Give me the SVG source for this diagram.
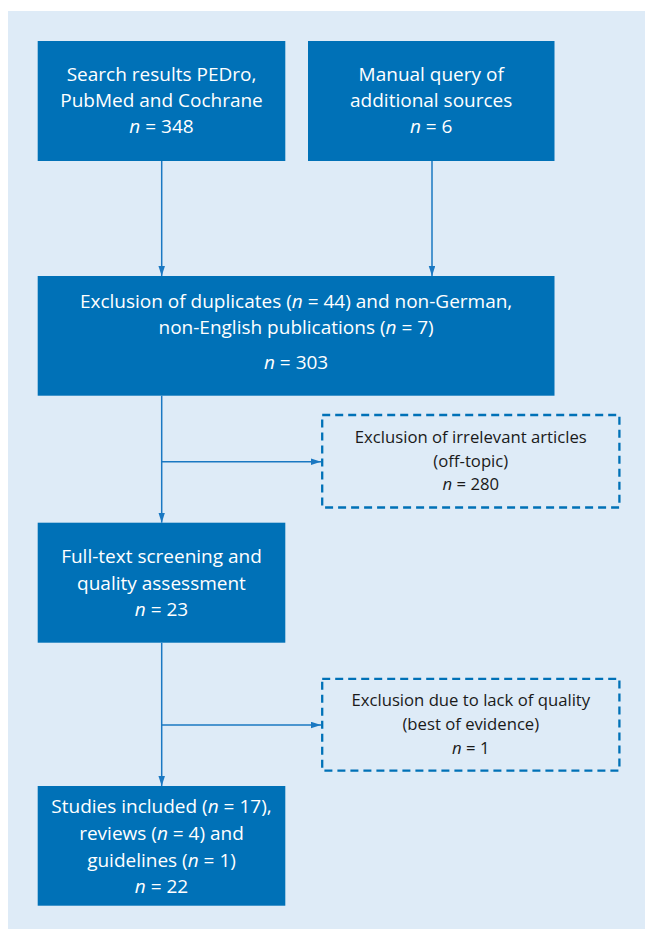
<svg xmlns="http://www.w3.org/2000/svg" width="645" height="929" viewBox="0 0 645 929">
<style>
.box{fill:#0071b7}
.dash{fill:none;stroke:#0071b7;stroke-width:2.3;stroke-dasharray:8 5}
.tw{font-family:"Open Sans","Liberation Sans",sans-serif;font-size:19px;fill:#ffffff;text-anchor:middle}
.td{font-family:"Open Sans","Liberation Sans",sans-serif;font-size:16.7px;fill:#1a1a1a;text-anchor:middle}
.i{font-style:italic}
.conn line{stroke:#1a78c2;stroke-width:1.5;fill:none}
</style>
<defs>
<marker id="ah" markerUnits="userSpaceOnUse" markerWidth="10" markerHeight="7" refX="10" refY="3.25" orient="auto">
<path d="M0,0 L10,3.25 L0,6.5 z" fill="#1a78c2"/>
</marker>
</defs>
<rect x="8" y="11" width="637" height="918" fill="#deebf7"/>
<g id="n1">
<rect class="box" x="37.7" y="41" width="247.6" height="120"/>
<text class="tw" x="161.5" y="81">Search results PEDro,</text>
<text class="tw" x="161.5" y="107.3">PubMed and Cochrane</text>
<text class="tw" x="161.5" y="132.7"><tspan class="i">n</tspan> = 348</text>
</g>
<g id="n2">
<rect class="box" x="308" y="41" width="246.5" height="120"/>
<text class="tw" x="431.2" y="81">Manual query of</text>
<text class="tw" x="431.2" y="107.3">additional sources</text>
<text class="tw" x="431.2" y="132.7"><tspan class="i">n</tspan> = 6</text>
</g>
<g id="n3">
<rect class="box" x="37.7" y="276" width="516.8" height="119.7"/>
<text class="tw" x="296.1" y="308">Exclusion of duplicates (<tspan class="i">n</tspan> = 44) and non-German,</text>
<text class="tw" x="296.1" y="334">non-English publications (<tspan class="i">n</tspan> = 7)</text>
<text class="tw" x="296.1" y="369"><tspan class="i">n</tspan> = 303</text>
</g>
<g id="n4">
<rect class="dash" x="322.2" y="415" width="297.2" height="92.5"/>
<text class="td" x="470.8" y="443.3">Exclusion of irrelevant articles</text>
<text class="td" x="470.8" y="466.5">(off-topic)</text>
<text class="td" x="470.8" y="490"><tspan class="i">n</tspan> = 280</text>
</g>
<g id="n5">
<rect class="box" x="37.7" y="522.7" width="247.6" height="120"/>
<text class="tw" x="161.5" y="563.3">Full-text screening and</text>
<text class="tw" x="161.5" y="589.5">quality assessment</text>
<text class="tw" x="161.5" y="616"><tspan class="i">n</tspan> = 23</text>
</g>
<g id="n6">
<rect class="dash" x="322.2" y="678.8" width="297.2" height="91.8"/>
<text class="td" x="470.8" y="706.3">Exclusion due to lack of quality</text>
<text class="td" x="470.8" y="729.5">(best of evidence)</text>
<text class="td" x="470.8" y="754"><tspan class="i">n</tspan> = 1</text>
</g>
<g id="n7">
<rect class="box" x="37.7" y="786" width="247.6" height="119.7"/>
<text class="tw" x="161.5" y="813.3">Studies included (<tspan class="i">n</tspan> = 17),</text>
<text class="tw" x="161.5" y="840">reviews (<tspan class="i">n</tspan> = 4) and</text>
<text class="tw" x="161.5" y="866.7">guidelines (<tspan class="i">n</tspan> = 1)</text>
<text class="tw" x="161.5" y="893.3"><tspan class="i">n</tspan> = 22</text>
</g>
<g id="connectors" class="conn">
<line x1="161.7" y1="161" x2="161.7" y2="276" marker-end="url(#ah)"/>
<line x1="432" y1="161" x2="432" y2="276" marker-end="url(#ah)"/>
<line x1="161.7" y1="395.7" x2="161.7" y2="522.7" marker-end="url(#ah)"/>
<line x1="161.7" y1="461.7" x2="321" y2="461.7" marker-end="url(#ah)"/>
<line x1="161.7" y1="642.7" x2="161.7" y2="786" marker-end="url(#ah)"/>
<line x1="161.7" y1="725" x2="321" y2="725" marker-end="url(#ah)"/>
</g>
</svg>
